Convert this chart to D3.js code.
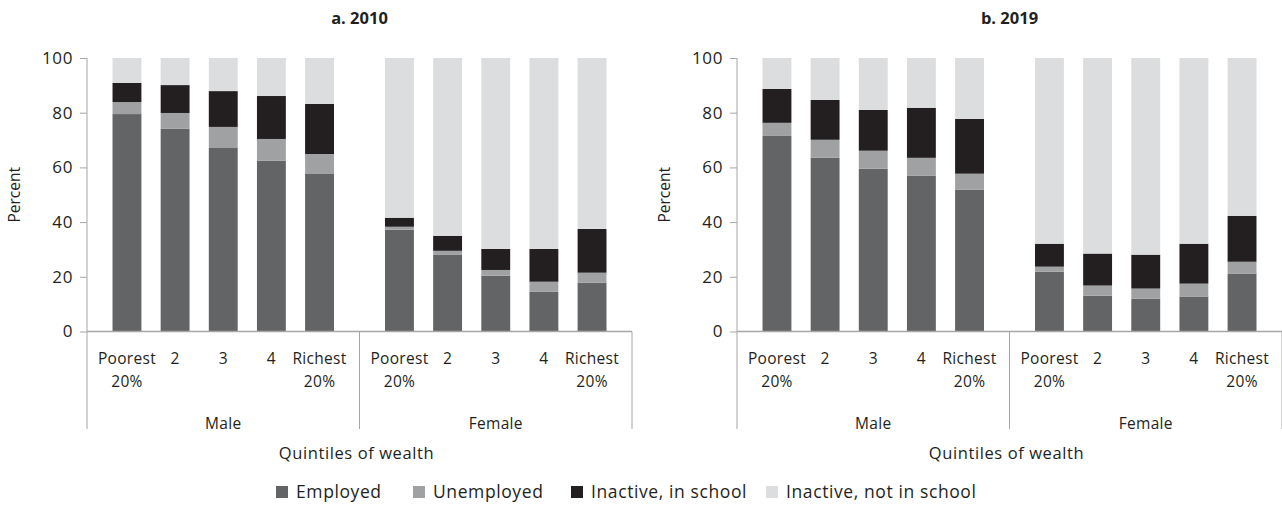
<!DOCTYPE html>
<html><head><meta charset="utf-8">
<script src="https://cdn.jsdelivr.net/npm/d3@7"></script>
<style>
html,body{margin:0;padding:0;background:#fff;}
svg text{font-family:"Open Sans","Noto Sans",sans-serif;fill:#231f20;}
</style></head>
<body>
<svg id="chart" width="1282" height="506"></svg>
<script>
// ---- data ----
const sexes = ["Male", "Female"];
const quintiles = ["Poorest 20%", "2", "3", "4", "Richest 20%"];
const quintileLines = [["Poorest", "20%"], ["2"], ["3"], ["4"], ["Richest", "20%"]];
const seriesNames = ["Employed", "Unemployed", "Inactive, in school", "Inactive, not in school"];
const seriesColors = ["#636466", "#a0a1a3", "#231f20", "#dcdddf"];
const yTicks = [0, 20, 40, 60, 80, 100];
const panelTitles = ["a. 2010", "b. 2019"];

// order: Male Poorest..Richest, Female Poorest..Richest
const employed2010    = [79.5, 74.1, 67.1, 62.4, 57.6, 37.2, 28.0, 20.4, 14.5, 17.8];
const unemployed2010  = [4.4, 5.8, 7.7, 8.0, 7.3, 1.1, 1.5, 2.1, 3.7, 3.7];
const inSchool2010    = [7.0, 10.2, 13.1, 15.7, 18.3, 3.3, 5.5, 7.7, 12.0, 16.0];
const notInSchool2010 = [9.1, 9.9, 12.1, 13.9, 16.8, 58.4, 65.0, 69.8, 69.8, 62.5];

const employed2019    = [71.5, 63.5, 59.5, 56.9, 51.8, 21.9, 13.1, 12.0, 12.8, 21.2];
const unemployed2019  = [4.8, 6.6, 6.6, 6.6, 5.9, 1.8, 3.7, 3.7, 4.7, 4.3];
const inSchool2019    = [12.4, 14.6, 14.9, 18.3, 20.0, 8.4, 11.7, 12.4, 14.6, 16.8];
const notInSchool2019 = [11.3, 15.3, 19.0, 18.2, 22.3, 67.9, 71.5, 71.9, 67.9, 57.7];

const panels = [
  {title: panelTitles[0], series: [employed2010, unemployed2010, inSchool2010, notInSchool2010]},
  {title: panelTitles[1], series: [employed2019, unemployed2019, inSchool2019, notInSchool2019]}
];

// ---- layout ----
const svg = d3.select("#chart");
const axisColor = "#a6a6a6";
const fontSize = 15.5;
const plotLeft = 87, plotRight = 632, plotTop = 58, plotBottom = 331.5, sepBottom = 429;

const y = d3.scaleLinear().domain([0, 100]).range([plotBottom, plotTop]);
const xGroup = d3.scaleBand().domain(sexes).range([plotLeft, plotRight]).padding(0);
const xQ = d3.scaleBand().domain(quintiles).range([0, xGroup.bandwidth()])
  .paddingInner(0.4).paddingOuter(0.53);

panels.forEach((p, pi) => {
  const g = svg.append("g").attr("transform", `translate(${pi * 650},0)`);

  const rows = [];
  sexes.forEach((s, si) => quintiles.forEach((q, qi) => {
    const idx = si * 5 + qi;
    const r = {sex: s, q: q};
    seriesNames.forEach((n, ni) => r[n] = p.series[ni][idx]);
    rows.push(r);
  }));
  const stacked = d3.stack().keys(seriesNames)(rows);

  g.selectAll("g.layer").data(stacked).join("g")
    .attr("class", "layer")
    .attr("fill", (d, i) => seriesColors[i])
    .selectAll("rect").data(d => d).join("rect")
    .attr("x", d => xGroup(d.data.sex) + xQ(d.data.q))
    .attr("width", xQ.bandwidth())
    .attr("y", d => y(Math.min(100, d[1])))
    .attr("height", d => y(d[0]) - y(Math.min(100, d[1])));

  // y axis
  const yAxis = d3.axisLeft(y).tickValues(yTicks).tickSize(7).tickPadding(7);
  const ya = g.append("g").attr("transform", `translate(${plotLeft},0)`).call(yAxis);
  ya.select(".domain").remove();
  ya.selectAll(".tick line").attr("stroke", axisColor);
  ya.selectAll(".tick text").attr("font-size", 17).attr("font-family", null)
    .attr("fill", "#231f20").attr("letter-spacing", 0.6);
  g.append("line").attr("x1", plotLeft).attr("x2", plotLeft)
    .attr("y1", plotTop).attr("y2", sepBottom).attr("stroke", axisColor);

  g.append("line").attr("x1", plotLeft).attr("x2", plotRight)
    .attr("y1", plotBottom).attr("y2", plotBottom).attr("stroke", axisColor).attr("stroke-width", 1.5);

  [xGroup(sexes[1]), plotRight].forEach(xv => {
    g.append("line").attr("x1", xv).attr("x2", xv)
      .attr("y1", plotBottom).attr("y2", sepBottom).attr("stroke", axisColor);
  });

  sexes.forEach(s => {
    quintiles.forEach((q, qi) => {
      const cx = xGroup(s) + xQ(q) + xQ.bandwidth() / 2;
      const t = g.append("text").attr("x", cx).attr("y", 364)
        .attr("text-anchor", "middle").attr("font-size", fontSize).attr("letter-spacing", 0.3);
      quintileLines[qi].forEach((ln, li) => {
        t.append("tspan").attr("x", cx).attr("dy", li === 0 ? 0 : 23).text(ln);
      });
    });
    g.append("text").attr("x", xGroup(s) + xGroup.bandwidth() / 2).attr("y", 429)
      .attr("text-anchor", "middle").attr("font-size", fontSize).attr("letter-spacing", 0.3).text(s);
  });

  g.append("text").attr("x", (plotLeft + plotRight) / 2 - 3).attr("y", 459)
    .attr("text-anchor", "middle").attr("font-size", 16.5).attr("letter-spacing", 0.6)
    .text("Quintiles of wealth");
  g.append("text").attr("transform", `translate(20,${(plotTop + plotBottom) / 2}) rotate(-90)`)
    .attr("text-anchor", "middle").attr("font-size", fontSize).text("Percent");

  g.append("text").attr("x", (plotLeft + plotRight) / 2).attr("y", 24)
    .attr("text-anchor", "middle").attr("font-size", 16.5).attr("font-weight", "bold").text(p.title);
});

// legend
const legendX = [276, 413, 571, 766];
const lg = svg.append("g");
seriesNames.forEach((n, i) => {
  lg.append("rect").attr("x", legendX[i]).attr("y", 486).attr("width", 12).attr("height", 12)
    .attr("fill", seriesColors[i]);
  lg.append("text").attr("x", legendX[i] + 20).attr("y", 498).attr("font-size", 17.5)
    .attr("letter-spacing", 0.6).text(n);
});
</script>
</body></html>
